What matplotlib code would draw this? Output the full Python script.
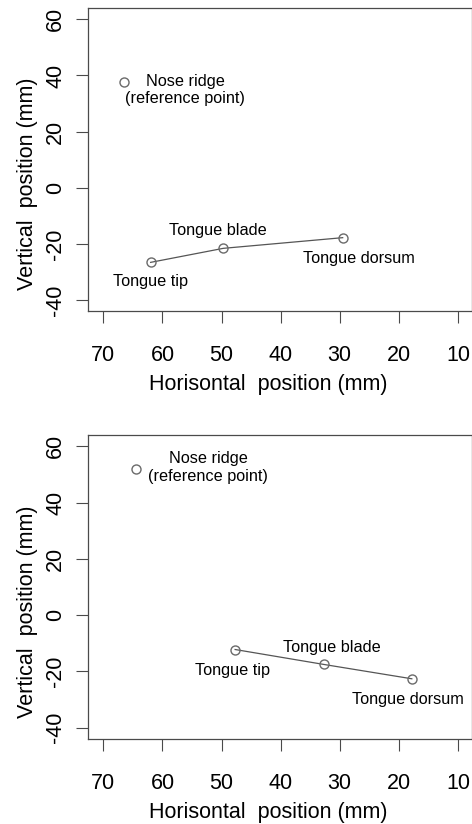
#!/usr/bin/env python3
"""Two R-style scatter panels of tongue sensor positions (inverted x axis)."""

import matplotlib

matplotlib.use("Agg")
import matplotlib.pyplot as plt

plt.rcParams["font.family"] = ["Liberation Sans", "DejaVu Sans"]
plt.rcParams["axes.unicode_minus"] = False

# --- data ------------------------------------------------------------------
point_names = ["Tongue tip", "Tongue blade", "Tongue dorsum"]
nose_label = "Nose ridge\n(reference point)"

top_tongue_x = [62.0, 49.7, 29.5]
top_tongue_y = [-26.6, -21.6, -17.8]
top_nose = (66.5, 37.8)

bottom_tongue_x = [47.7, 32.7, 17.8]
bottom_tongue_y = [-12.2, -17.5, -22.6]
bottom_nose = (64.5, 52.0)

x_ticks = [70, 60, 50, 40, 30, 20, 10]
y_ticks = [60, 40, 20, 0, -20, -40]
x_title = "Horisontal  position (mm)"
y_title = "Vertical  position (mm)"

# label offsets in points (dx right, dy up) relative to each point
top_offsets = {"nose": (44, -6), "tip": (0, -14), "blade": (-4, 13), "dorsum": (12, -15)}
bottom_offsets = {"nose": (52, 1), "tip": (-2, -15), "blade": (6, 12), "dorsum": (-3, -15)}

W, H = 472, 824
AX_COLOR = "#4a4a4a"
BIG = 15.5
SMALL = 11.7


def draw_panel(ax, tx, ty, nose, offsets):
    ax.plot(tx, ty, color="#555555", lw=0.9, zorder=2)
    ax.plot(tx, ty, ls="none", marker="o", ms=6.5, mfc="none",
            mec="#6a6a6a", mew=1.0, zorder=3)
    ax.plot([nose[0]], [nose[1]], ls="none", marker="o", ms=6.5, mfc="none",
            mec="#6a6a6a", mew=1.0, zorder=3)

    kw = dict(textcoords="offset points", ha="center", va="center",
              fontsize=SMALL, color="black")
    ax.annotate(nose_label, nose, xytext=offsets["nose"],
                multialignment="center", linespacing=1.2, **kw)
    for name, key, x, y in zip(point_names, ["tip", "blade", "dorsum"], tx, ty):
        ax.annotate(name, (x, y), xytext=offsets[key], **kw)

    ax.set_xlim(72.6, 7.7)
    ax.set_ylim(-44, 64)
    ax.set_xticks(x_ticks)
    ax.set_xticklabels([str(v) for v in x_ticks])
    ax.set_yticks(y_ticks)
    ax.set_yticklabels([str(v) for v in y_ticks], rotation=90,
                       va="center", ha="right")
    ax.tick_params(axis="both", direction="out", length=8.6, width=0.8,
                   color=AX_COLOR, labelsize=BIG)
    ax.tick_params(axis="x", pad=16)
    ax.tick_params(axis="y", pad=7)
    for sp in ax.spines.values():
        sp.set_color(AX_COLOR)
        sp.set_linewidth(0.9)
    ax.set_xlabel(x_title, fontsize=BIG, labelpad=5.5, x=0.47)
    ax.set_ylabel(y_title, fontsize=BIG, labelpad=5.5, y=0.42)


fig = plt.figure(figsize=(W / 100, H / 100), dpi=100)

left, right = 88 / W, 471.5 / W
ax_top = fig.add_axes([left, 1 - 311.2 / H, right - left, (311.2 - 8.1) / H])
ax_bot = fig.add_axes([left, 1 - 739.0 / H, right - left, (739.0 - 435.1) / H])

draw_panel(ax_top, top_tongue_x, top_tongue_y, top_nose, top_offsets)
draw_panel(ax_bot, bottom_tongue_x, bottom_tongue_y, bottom_nose, bottom_offsets)

fig.savefig("out.png", dpi=100)
